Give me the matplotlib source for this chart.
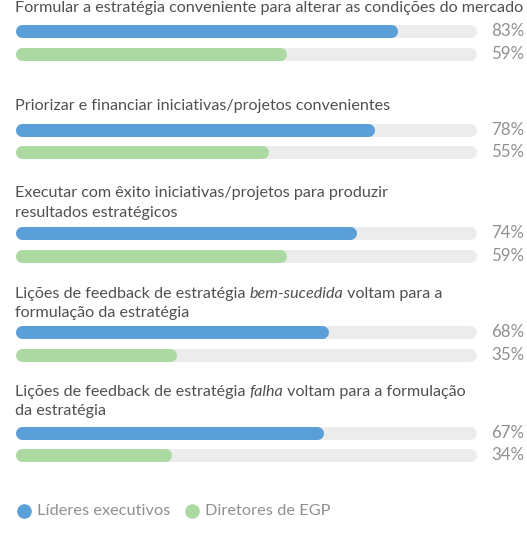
import matplotlib
matplotlib.use('Agg')
import matplotlib.pyplot as plt

# dados
perguntas = [
    [[('Formular a estratégia conveniente para alterar as condições do mercado', False)]],
    [[('Priorizar e financiar iniciativas/projetos convenientes', False)]],
    [[('Executar com êxito iniciativas/projetos para produzir', False)],
     [('resultados estratégicos', False)]],
    [[('Lições de feedback de estratégia ', False), ('bem-sucedida', True), (' voltam para a', False)],
     [('formulação da estratégia', False)]],
    [[('Lições de feedback de estratégia ', False), ('falha', True), (' voltam para a formulação', False)],
     [('da estratégia', False)]],
]
lideres = [83, 78, 74, 68, 67]
diretores = [59, 55, 59, 35, 34]
series = ['Líderes executivos', 'Diretores de EGP']

# layout (pixels)
titulo_y = [8, 106, 193, 294, 392]
barra_y = [(31, 54), (130, 152), (233, 256), (332, 355), (433, 455)]
linha_dy = 19.5
legenda_y = 511

azul = '#5b9fd9'
verde = '#acd8a2'
trilho = '#ececec'
cor_texto = '#505050'
cor_pct = '#909090'
fonte = 'Lato'
tam = 11.6

W, H = 527, 537
fig = plt.figure(figsize=(W / 100, H / 100), dpi=100)
x0, x1 = 15, 476
ax = fig.add_axes([x0 / W, 0, (x1 - x0) / W, 1])
ax.set_xlim(0, 100)
ax.set_ylim(H, 0)
ax.axis('off')

px = 100 / (x1 - x0)  # unidades por pixel
esp = 13  # espessura da barra em px
lw = esp * 72 / 100
cap = esp / 2 * px


def barra(v, y, cor):
    ax.plot([cap, v - cap], [y, y], color=cor, lw=lw, solid_capstyle='round',
            clip_on=False)


renderer = fig.canvas.get_renderer()


def linha_texto(partes, y):
    x = 0
    for txt, ital in partes:
        t = ax.text(x, y, txt, fontsize=tam, family=fonte, color=cor_texto,
                    style='italic' if ital else 'normal', va='center', ha='left')
        bb = t.get_window_extent(renderer=renderer)
        x = ax.transData.inverted().transform((bb.x1, 0))[0]


for i, linhas in enumerate(perguntas):
    for j, partes in enumerate(linhas):
        linha_texto(partes, titulo_y[i] + j * linha_dy)
    for v, y, cor in [(lideres[i], barra_y[i][0], azul), (diretores[i], barra_y[i][1], verde)]:
        barra(100, y, trilho)
        barra(v, y, cor)
        ax.text(110.5, y, f'{v}%', fontsize=12.2, family=fonte,
                color=cor_pct, va='center', ha='right', clip_on=False)

# legenda
for nome, cor, xp in [(series[0], azul, 24), (series[1], verde, 192)]:
    xd = (xp - x0) * px
    ax.plot([xd], [legenda_y], 'o', ms=9.5, color=cor, clip_on=False)
    ax.text(xd + 13 * px, legenda_y, nome, fontsize=11.8, family=fonte,
            color=cor_pct, va='center', ha='left', clip_on=False)

fig.savefig('out.png', dpi=100)
